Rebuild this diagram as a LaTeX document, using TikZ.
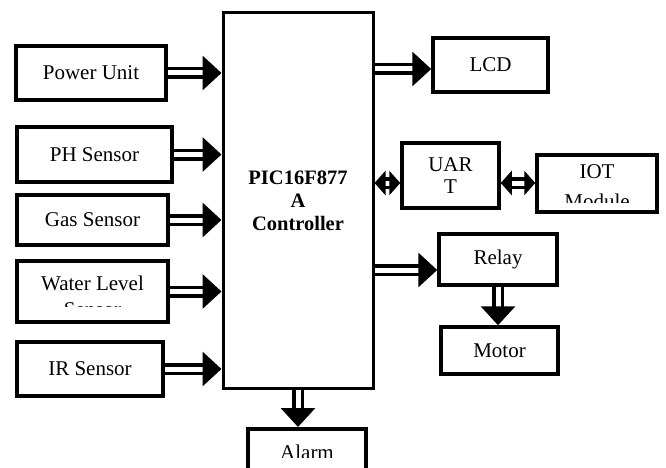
\documentclass[tikz,border=0pt]{standalone}
\usepackage{fontspec}
\setmainfont{Liberation Serif}
\usetikzlibrary{positioning, arrows.meta, calc}

\begin{document}
\begin{tikzpicture}[
  x=1pt, y=-1pt,
  every node/.style={font=\fontsize{21}{22}\selectfont},
  blk/.style={draw, line width=3.5pt, inner sep=0pt, align=center},
  fat/.style={double, double distance=5pt, line width=3.5pt,
              -{Triangle[length=19pt, width=34pt]}},
  dfat/.style={double, double distance=5pt, line width=3.5pt,
               {Triangle[length=11pt, width=24pt]}-{Triangle[length=11pt, width=24pt]}}
]
\clip (0,0) rectangle (666,468);

%% Inputs
\node[blk, minimum width=150pt, minimum height=54pt] (power) at (91,73) {Power Unit};
\node[blk, minimum width=155pt, minimum height=55pt] (ph) at (94.5,154.5) {PH Sensor};
\node[blk, minimum width=151pt, minimum height=50pt] (gas) at (92.5,220) {Gas Sensor};
\node[blk, minimum width=151pt, minimum height=61pt] (water) at (92.5,291.5) {};
\node[blk, minimum width=146pt, minimum height=54pt] (ir) at (90,369) {IR Sensor};

%% Controller
\node[blk, line width=3pt, minimum width=150pt, minimum height=375pt,
      font=\fontsize{20.5}{23}\selectfont\bfseries] (ctrl)
  at (298,200.5) {PIC16F877\\A\\Controller};

%% Outputs
\node[blk, minimum width=115pt, minimum height=54pt] (lcd) at (490.5,65) {LCD};
\node[blk, minimum width=97pt, minimum height=65pt] (uart) at (450.5,175.5) {UAR\\T};
\node[blk, minimum width=120pt, minimum height=57pt] (iot) at (597,183.5) {};
\node[blk, minimum width=118pt, minimum height=51pt] (relay) at (498,259.5) {Relay};
\node[blk, minimum width=117pt, minimum height=47pt] (motor) at (499.5,350.5) {Motor};
\node[blk, minimum width=118pt, minimum height=60pt, anchor=north] (alarm) at (307,427) {};

%% Clipped texts
\begin{scope}
  \clip (water.north west) rectangle (168,306);
  \node[align=center, font=\fontsize{21}{26}\selectfont] (watertxt)
    at (92.5,296) {Water Level\\Sensor};
\end{scope}
\begin{scope}
  \clip (iot.north west) rectangle (657,202);
  \node[align=center, font=\fontsize{21}{30}\selectfont] (iottxt)
    at (597,187) {IOT\\Module};
\end{scope}
\begin{scope}
  \clip (alarm.north west) rectangle (366,457);
  \node (alarmtxt) at (307,452) {Alarm};
\end{scope}

%% ---- Arrows ----
% Sensors -> Controller
\draw[fat] (power.east) -- (power.east -| ctrl.west);
\draw[fat] (ph.east) -- (ph.east -| ctrl.west);
\draw[fat] (gas.east) -- (gas.east -| ctrl.west);
\draw[fat] (water.east) -- (water.east -| ctrl.west);
\draw[fat] (ir.east) -- (ir.east -| ctrl.west);

% Controller -> outputs
\coordinate (lcdin) at ([yshift=-4pt]lcd.west);
\coordinate (uartin) at ([yshift=-7.5pt]uart.west);
\coordinate (relayin) at ([yshift=-10.5pt]relay.west);
\draw[fat] (ctrl.east |- lcdin) -- (lcdin);
\draw[dfat] (ctrl.east |- uartin) -- (uartin);
\draw[dfat] (uart.east |- uartin) -- (iot.west |- uartin);
\draw[fat] (ctrl.east |- relayin) -- (relayin);
\draw[fat] (relay.south) -- (relay.south |- motor.north);
\draw[fat] (ctrl.south) -- (ctrl.south |- alarm.north);

\end{tikzpicture}
\end{document}
